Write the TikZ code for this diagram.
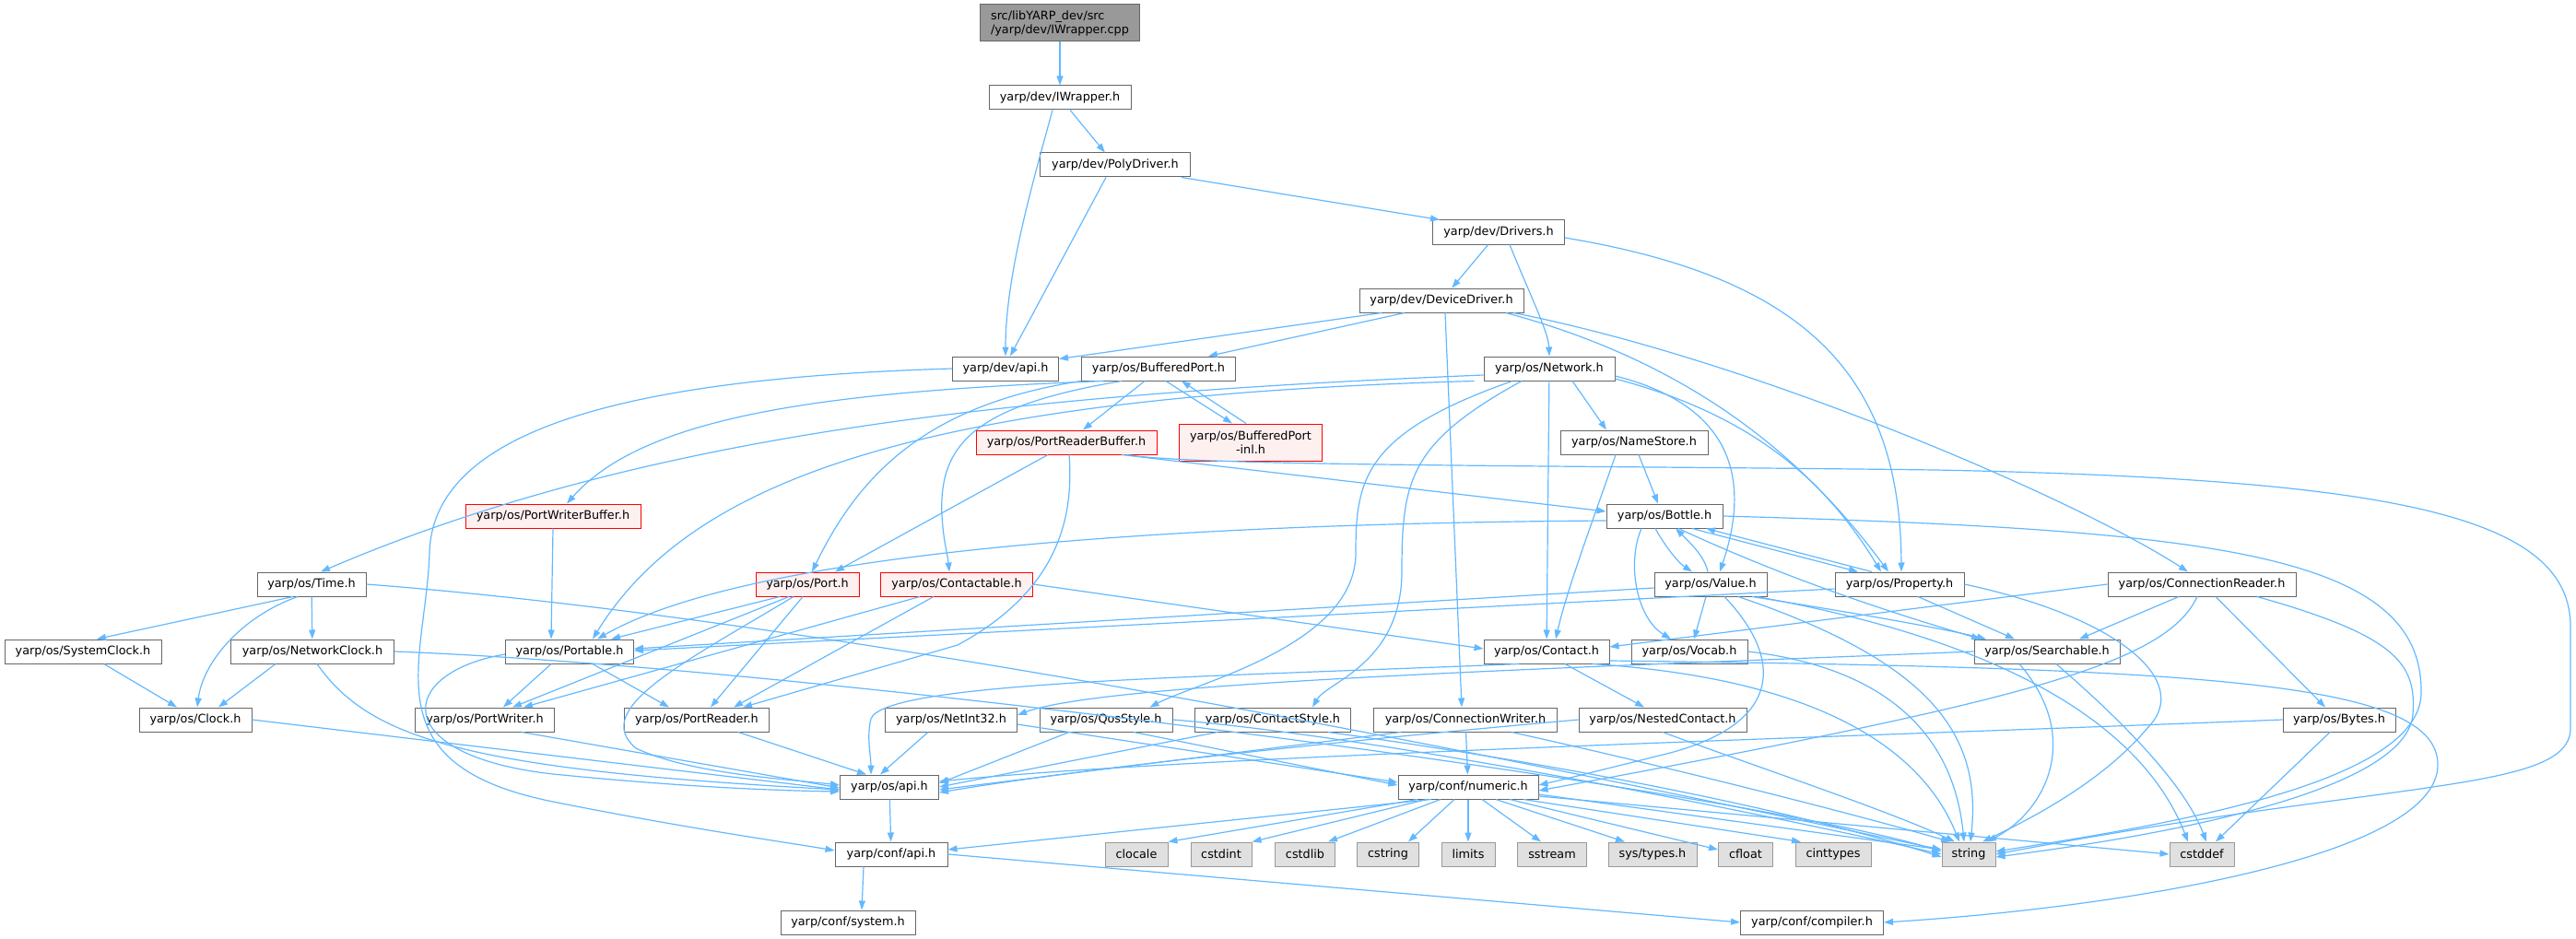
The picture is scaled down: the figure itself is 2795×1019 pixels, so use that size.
\documentclass[tikz,border=0pt]{standalone}
\usepackage{fontspec}
\usetikzlibrary{arrows.meta}
\newfontfamily\dvs{DejaVu Sans}
\newcommand\dvsfont{\dvs\fontsize{12.8pt}{15pt}\selectfont}
\definecolor{edgec}{HTML}{63B8FF}
\definecolor{bord}{HTML}{666666}
\definecolor{redfill}{HTML}{FFF0F0}
\definecolor{sysfill}{HTML}{E0E0E0}
\definecolor{sysbord}{HTML}{999999}
\definecolor{rootfill}{HTML}{999999}
\tikzset{
  box/.style={draw=bord, line width=1pt, fill=white, minimum height=26pt, inner sep=0pt, font=\dvsfont},
  redbox/.style={box, draw=red, fill=redfill},
  sysbox/.style={box, draw=sysbord, fill=sysfill},
  rootbox/.style={box, fill=rootfill},
  dep/.style={draw=edgec, line width=1.2pt, -{Triangle[length=10pt,width=7pt]}}
}
\begin{document}
\begin{tikzpicture}[x=1pt,y=-1pt]
\useasboundingbox (0,0) rectangle (2795,1019);
% nodes
\node[rootbox, minimum width=173pt, minimum height=40pt, align=left] (cpp) at (1150,25) {src/libYARP\_dev/src\\/yarp/dev/IWrapper.cpp};
\node[box, minimum width=154pt] (IWr) at (1150,106) {yarp/dev/IWrapper.h};
\node[box, minimum width=163pt] (Poly) at (1210,179) {yarp/dev/PolyDriver.h};
\node[box, minimum width=143pt] (Drv) at (1626,252) {yarp/dev/Drivers.h};
\node[box, minimum width=178pt] (DevDrv) at (1564,326) {yarp/dev/DeviceDriver.h};
\node[box, minimum width=115pt] (devapi) at (1091,400) {yarp/dev/api.h};
\node[box, minimum width=167pt] (BufP) at (1257,400) {yarp/os/BufferedPort.h};
\node[box, minimum width=142pt] (Net) at (1681,400) {yarp/os/Network.h};
\node[redbox, minimum width=196pt] (PRB) at (1157,480) {yarp/os/PortReaderBuffer.h};
\node[redbox, minimum width=155pt, minimum height=40pt, align=center] (inl) at (1357,480) {yarp/os/BufferedPort\\-inl.h};
\node[box, minimum width=160pt] (NameS) at (1773,480) {yarp/os/NameStore.h};
\node[redbox, minimum width=190pt] (PWB) at (600,560) {yarp/os/PortWriterBuffer.h};
\node[box, minimum width=126pt] (Bottle) at (1806,560) {yarp/os/Bottle.h};
\node[box, minimum width=118pt] (Time) at (338,634) {yarp/os/Time.h};
\node[redbox, minimum width=112pt] (Port) at (876,634) {yarp/os/Port.h};
\node[redbox, minimum width=165pt] (Ctble) at (1038,634) {yarp/os/Contactable.h};
\node[box, minimum width=122pt] (Value) at (1856,634) {yarp/os/Value.h};
\node[box, minimum width=140pt] (Prop) at (2061,634) {yarp/os/Property.h};
\node[box, minimum width=204pt] (CR) at (2389,634) {yarp/os/ConnectionReader.h};
\node[box, minimum width=170pt] (SysClk) at (90,707) {yarp/os/SystemClock.h};
\node[box, minimum width=177pt] (NetClk) at (339,707) {yarp/os/NetworkClock.h};
\node[box, minimum width=139pt] (Portable) at (618,707) {yarp/os/Portable.h};
\node[box, minimum width=136pt] (Contact) at (1678,707) {yarp/os/Contact.h};
\node[box, minimum width=126pt] (Vocab) at (1833,707) {yarp/os/Vocab.h};
\node[box, minimum width=158pt] (Search) at (2221,707) {yarp/os/Searchable.h};
\node[box, minimum width=122pt] (Clock) at (212,781) {yarp/os/Clock.h};
\node[box, minimum width=151pt] (PW) at (526,781) {yarp/os/PortWriter.h};
\node[box, minimum width=157pt] (PR) at (756,781) {yarp/os/PortReader.h};
\node[box, minimum width=143pt] (NI32) at (1032,781) {yarp/os/NetInt32.h};
\node[box, minimum width=144pt] (Qos) at (1200,781) {yarp/os/QosStyle.h};
\node[box, minimum width=169pt] (CStyle) at (1381,781) {yarp/os/ContactStyle.h};
\node[box, minimum width=199pt] (CW) at (1590,781) {yarp/os/ConnectionWriter.h};
\node[box, minimum width=182pt] (Nested) at (1804,781) {yarp/os/NestedContact.h};
\node[box, minimum width=122pt] (Bytes) at (2538,781) {yarp/os/Bytes.h};
\node[box, minimum width=107pt] (osapi) at (965,854) {yarp/os/api.h};
\node[box, minimum width=152pt] (numeric) at (1593,854) {yarp/conf/numeric.h};
\node[box, minimum width=122pt] (confapi) at (967,927) {yarp/conf/api.h};
\node[sysbox, minimum width=68pt] (clocale) at (1233,927) {clocale};
\node[sysbox, minimum width=66pt] (cstdint) at (1325,927) {cstdint};
\node[sysbox, minimum width=65pt] (cstdlib) at (1416,927) {cstdlib};
\node[sysbox, minimum width=67pt] (cstring) at (1506,927) {cstring};
\node[sysbox, minimum width=58pt] (limits) at (1593,927) {limits};
\node[sysbox, minimum width=75pt] (sstream) at (1684,927) {sstream};
\node[sysbox, minimum width=96pt] (systypes) at (1793,927) {sys/types.h};
\node[sysbox, minimum width=59pt] (cfloat) at (1894,927) {cfloat};
\node[sysbox, minimum width=82pt] (cinttypes) at (1989,927) {cinttypes};
\node[sysbox, minimum width=58pt] (string) at (2136,927) {string};
\node[sysbox, minimum width=70pt] (cstddef) at (2389,927) {cstddef};
\node[box, minimum width=146pt] (system) at (920,1001) {yarp/conf/system.h};
\node[box, minimum width=155pt] (compiler) at (1966,1001) {yarp/conf/compiler.h};
% edges
\draw[dep] (cpp) -- (IWr);
\draw[dep] ([xshift=-8pt]IWr.south) .. controls (1120,200) and (1091,300) .. (devapi.north);
\draw[dep] (IWr) -- (Poly);
\draw[dep] ([xshift=-10pt]Poly.south) -- ([xshift=5pt]devapi.north);
\draw[dep] ([xshift=-10pt]Poly.south east) -- ([xshift=8pt]Drv.north west);
\draw[dep] (Drv) -- (DevDrv);
\draw[dep] ([xshift=12pt]Drv.south) .. controls (1660,320) and (1680,360) .. (Net.north);
\draw[dep] ([yshift=-6pt]Drv.east) .. controls (1950,300) and (2062,400) .. ([xshift=2pt]Prop.north);
\draw[dep] ([xshift=-65pt]DevDrv.south) -- ([yshift=-3pt]devapi.north east);
\draw[dep] ([xshift=-40pt]DevDrv.south) -- ([xshift=-30pt]BufP.north east);
\draw[dep] ([xshift=4pt]DevDrv.south) -- ([xshift=-4pt]CW.north);
\draw[dep] ([xshift=70pt]DevDrv.south) .. controls (1840,395) and (1960,500) .. ([xshift=-12pt]Prop.north);
\draw[dep] ([xshift=78pt]DevDrv.south) .. controls (1900,390) and (2250,540) .. ([xshift=-15pt]CR.north);
\draw[dep] (devapi.west) .. controls (700,410) and (470,460) .. (466,600) .. controls (462,720) and (400,830) .. (600,870) .. controls (750,900) and (860,915) .. ([yshift=4pt]confapi.west);
\draw[dep] ([xshift=-15pt]BufP.south) -- ([xshift=18pt]PRB.north);
\draw[dep] ([xshift=8pt]BufP.south) -- ([xshift=-20pt]inl.north);
\draw[dep] ([xshift=-5pt]inl.north) -- ([xshift=25pt]BufP.south);
\draw[dep] ([xshift=-60pt]BufP.south) .. controls (900,425) and (700,450) .. ([xshift=15pt]PWB.north);
\draw[dep] (BufP.south west) .. controls (1000,440) and (930,520) .. ([xshift=5pt]Port.north);
\draw[dep] ([xshift=-40pt]BufP.south) .. controls (1060,440) and (1018,480) .. (1022,560) .. controls (1024,590) and (1028,600) .. ([xshift=-8pt]Ctble.north);
\draw[dep] ([xshift=-20pt]PRB.south) -- ([xshift=30pt]Port.north);
\draw[dep] ([xshift=3pt]PRB.south) .. controls (1165,560) and (1150,640) .. (1039,700) -- ([xshift=50pt]PR.north);
\draw[dep] ([xshift=60pt]PRB.south) -- ([yshift=5pt]Bottle.west);
\draw[dep] ([xshift=65pt]PRB.south) .. controls (1300,506) and (1700,505) .. (2100,510) .. controls (2600,520) and (2789,560) .. (2789,680) -- (2789,790) .. controls (2789,860) and (2600,845) .. (string.east);
\draw[dep] ([yshift=-7pt]Net.west) .. controls (1100,428) and (700,470) .. ([xshift=10pt]Time.north);
\draw[dep] ([xshift=-10pt]Net.south west) .. controls (1000,430) and (750,520) .. ([xshift=25pt]Portable.north);
\draw[dep] ([xshift=25pt]Net.south) -- ([xshift=-30pt]NameS.north);
\draw[dep] (Net) -- (Contact);
\draw[dep] ([yshift=-8pt]Net.east) .. controls (1880,440) and (1900,520) .. ([xshift=10pt]Value.north);
\draw[dep] ([yshift=-11pt]Net.east) .. controls (1900,450) and (1980,520) .. ([xshift=-20pt]Prop.north);
\draw[dep] ([xshift=-40pt]Net.south) .. controls (1480,470) and (1471,520) .. (1471,600) .. controls (1471,700) and (1300,740) .. ([xshift=-25pt]Qos.north east);
\draw[dep] ([xshift=-30pt]Net.south) .. controls (1530,480) and (1521,520) .. (1521,620) .. controls (1521,720) and (1440,740) .. ([xshift=43pt]CStyle.north);
\draw[dep] ([xshift=5pt]NameS.south) -- ([xshift=-7pt]Bottle.north);
\draw[dep] ([xshift=-20pt]NameS.south) .. controls (1730,560) and (1700,640) .. ([xshift=10pt]Contact.north);
\draw[dep] ([xshift=-10pt]Bottle.south) .. controls (1805,590) and (1820,610) .. ([xshift=-20pt]Value.north);
\draw[dep] ([xshift=-3pt]Value.north) .. controls (1850,605) and (1835,590) .. ([xshift=12pt]Bottle.south);
\draw[dep] ([xshift=30pt]Bottle.south) -- ([xshift=-45pt]Prop.north);
\draw[dep] ([xshift=-30pt]Prop.north) -- ([xshift=45pt]Bottle.south);
\draw[dep] ([xshift=15pt]Bottle.south) .. controls (1900,610) and (2000,650) .. ([xshift=-72pt]Search.north);
\draw[dep] ([xshift=-25pt]Bottle.south) .. controls (1765,610) and (1775,670) .. ([xshift=-20pt]Vocab.north);
\draw[dep] ([yshift=-5pt]Bottle.west) .. controls (1300,568) and (820,595) .. ([xshift=30pt]Portable.north);
\draw[dep] (Bottle.east) .. controls (2400,575) and (2627,600) .. (2627,750) .. controls (2630,850) and (2350,895) .. ([yshift=3pt]string.east);
\draw[dep] ([xshift=-5pt]Value.south) -- ([xshift=5pt]Vocab.north);
\draw[dep] ([xshift=45pt]Value.south) .. controls (1980,660) and (2100,680) .. ([xshift=-66pt]Search.north);
\draw[dep] ([yshift=-4pt]Value.west) -- ([yshift=3pt]Portable.east);
\draw[dep] ([xshift=15pt]Value.south) .. controls (1940,720) and (1930,790) .. (1800,820) .. controls (1740,835) and (1700,845) .. ([yshift=2pt]numeric.east);
\draw[dep] ([xshift=30pt]Value.south) .. controls (2100,720) and (2150,800) .. ([xshift=2pt]string.north);
\draw[dep] ([xshift=50pt]Value.south) .. controls (2200,700) and (2330,800) .. ([xshift=-15pt]cstddef.north);
\draw[dep] ([xshift=20pt]Prop.south) -- ([xshift=-35pt]Search.north);
\draw[dep] ([yshift=-5pt]Prop.west) -- ([yshift=1pt]Portable.east);
\draw[dep] (Prop.east) .. controls (2300,670) and (2380,740) .. (2330,790) .. controls (2280,850) and (2200,890) .. ([xshift=15pt]string.north);
\draw[dep] (CR.west) -- ([yshift=5pt]Contact.east);
\draw[dep] ([xshift=-25pt]CR.south) -- ([xshift=35pt]Search.north);
\draw[dep] ([xshift=-5pt]CR.south) .. controls (2350,720) and (2200,760) .. ([yshift=-4pt]numeric.east);
\draw[dep] ([xshift=15pt]CR.south) -- ([xshift=-15pt]Bytes.north);
\draw[dep] ([xshift=60pt]CR.south) .. controls (2600,690) and (2622,720) .. (2618,775) .. controls (2612,850) and (2400,900) .. ([yshift=-3pt]string.east);
\draw[dep] ([xshift=-20pt]Time.south) -- ([xshift=15pt]SysClk.north);
\draw[dep] (Time) -- (NetClk);
\draw[dep] ([xshift=-15pt]Time.south) .. controls (260,670) and (220,720) .. ([xshift=2pt]Clock.north);
\draw[dep] (Time.east) .. controls (1000,680) and (1900,880) .. ([yshift=5pt]string.west);
\draw[dep] (SysClk) -- ([xshift=-20pt]Clock.north);
\draw[dep] ([xshift=-40pt]NetClk.south) -- ([xshift=25pt]Clock.north);
\draw[dep] ([xshift=5pt]NetClk.south) .. controls (400,800) and (500,835) .. ([yshift=-3pt]osapi.west);
\draw[dep] (NetClk.east) .. controls (900,725) and (1900,860) .. ([yshift=3pt]string.west);
\draw[dep] (PWB.south) -- ([xshift=-20pt]Portable.north);
\draw[dep] ([xshift=-20pt]Portable.south) -- ([xshift=20pt]PW.north);
\draw[dep] ([xshift=25pt]Portable.south) -- ([xshift=-30pt]PR.north);
\draw[dep] ([yshift=-3pt]Portable.west) .. controls (430,730) and (420,820) .. (600,840) .. controls (750,855) and (850,858) .. ([yshift=-5pt]osapi.west);
\draw[dep] ([xshift=-30pt]Port.south) -- ([xshift=45pt]Portable.north);
\draw[dep] ([xshift=-20pt]Port.south) -- ([xshift=30pt]PW.north);
\draw[dep] ([xshift=-5pt]Port.south) -- ([xshift=15pt]PR.north);
\draw[dep] ([xshift=-15pt]Port.south) .. controls (740,720) and (640,770) .. (690,812) .. controls (750,840) and (850,845) .. ([yshift=2pt]osapi.west);
\draw[dep] (Ctble.east) -- ([yshift=3pt]Contact.west);
\draw[dep] ([xshift=-40pt]Ctble.south) -- ([xshift=42pt]PW.north);
\draw[dep] ([xshift=-25pt]Ctble.south) -- ([xshift=40pt]PR.north);
\draw[dep] (Clock.east) -- ([yshift=-3pt]osapi.west);
\draw[dep] ([xshift=40pt]PW.south) -- ([yshift=-1pt]osapi.west);
\draw[dep] ([xshift=45pt]PR.south) -- ([xshift=-25pt]osapi.north);
\draw[dep] ([xshift=20pt]Contact.south) -- ([xshift=-20pt]Nested.north);
\draw[dep] ([xshift=-30pt]Contact.south) .. controls (1300,735) and (960,740) .. (945,780) .. controls (940,800) and (945,820) .. ([xshift=-20pt]osapi.north);
\draw[dep] ([xshift=50pt]Contact.south) .. controls (1950,735) and (2080,800) .. ([xshift=-10pt]string.north);
\draw[dep] ([yshift=-10pt]Contact.east) .. controls (2400,725) and (2645,740) .. (2645,830) .. controls (2645,930) and (2300,985) .. (compiler.east);
\draw[dep] (Vocab.east) .. controls (2050,725) and (2120,800) .. ([xshift=-5pt]string.north);
\draw[dep] ([xshift=-30pt]Search.south) .. controls (2260,800) and (2220,880) .. ([xshift=20pt]string.north);
\draw[dep] ([xshift=10pt]Search.south) .. controls (2300,780) and (2370,850) .. ([xshift=5pt]cstddef.north);
\draw[dep] (Search.west) .. controls (1700,725) and (1200,740) .. ([yshift=5pt]NI32.east);
\draw[dep] ([xshift=-25pt]NI32.south) -- ([xshift=-10pt]osapi.north);
\draw[dep] ([yshift=-5pt]NI32.east) -- ([yshift=5pt]numeric.west);
\draw[dep] ([xshift=-40pt]Qos.south) -- ([yshift=4pt]osapi.east);
\draw[dep] ([xshift=30pt]Qos.south) -- ([yshift=2pt]numeric.west);
\draw[dep] (Qos.east) .. controls (1500,800) and (1900,880) .. (string.west);
\draw[dep] ([xshift=-60pt]CStyle.south) -- (osapi.east);
\draw[dep] ([xshift=60pt]CStyle.south) .. controls (1700,830) and (1950,880) .. ([yshift=-3pt]string.west);
\draw[dep] ([xshift=-70pt]CW.south) -- ([yshift=-3pt]osapi.east);
\draw[dep] (CW) -- (numeric);
\draw[dep] ([xshift=50pt]CW.south) .. controls (1800,830) and (2000,880) .. ([xshift=-20pt]string.north);
\draw[dep] (Nested.west) .. controls (1500,800) and (1200,830) .. ([yshift=-6pt]osapi.east);
\draw[dep] (Nested.south) .. controls (1900,830) and (2050,880) .. ([xshift=-15pt]string.north);
\draw[dep] (Bytes.west) .. controls (2000,800) and (1300,820) .. ([yshift=6pt]osapi.east);
\draw[dep] ([xshift=-10pt]Bytes.south) -- ([xshift=15pt]cstddef.north);
\draw[dep] (osapi) -- (confapi);
\draw[dep] ([xshift=-40pt]numeric.south) -- ([yshift=5pt]confapi.east);
\draw[dep] ([xshift=-55pt]numeric.south) -- (clocale.north east);
\draw[dep] ([xshift=-45pt]numeric.south) -- (cstdint.north east);
\draw[dep] ([xshift=-30pt]numeric.south) -- ([xshift=-8pt]cstdlib.north east);
\draw[dep] ([xshift=-15pt]numeric.south) -- ([xshift=-12pt]cstring.north east);
\draw[dep] (numeric.south) -- (limits.north);
\draw[dep] ([xshift=15pt]numeric.south) -- ([xshift=-12pt]sstream.north);
\draw[dep] ([xshift=30pt]numeric.south) -- ([xshift=-30pt]systypes.north);
\draw[dep] ([xshift=45pt]numeric.south) -- ([yshift=5pt]cfloat.west);
\draw[dep] ([xshift=60pt]numeric.south) -- ([xshift=-35pt]cinttypes.north);
\draw[dep] ([yshift=-8pt]numeric.east) -- ([yshift=5pt]string.west);
\draw[dep] ([yshift=-10pt]numeric.east) -- (cstddef.west);
\draw[dep] ([xshift=-30pt]confapi.south) -- ([xshift=15pt]system.north);
\draw[dep] (confapi.east) -- (compiler.west);
\end{tikzpicture}
\end{document}
